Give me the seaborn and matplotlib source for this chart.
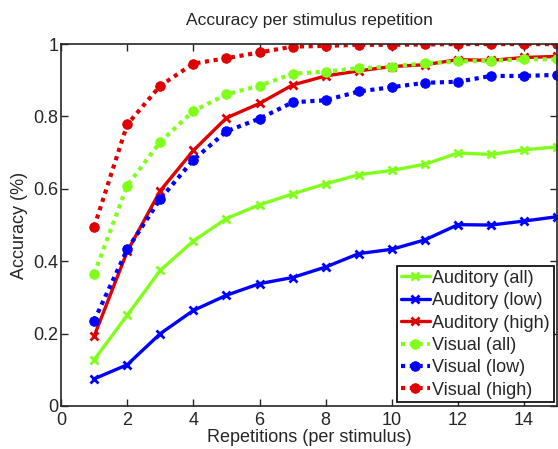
import numpy as np
import pandas as pd
import seaborn as sns
import matplotlib
matplotlib.use("Agg")
import matplotlib.pyplot as plt

reps = list(range(1, 16))
auditory_all = [0.128, 0.251, 0.375, 0.456, 0.518, 0.556, 0.586, 0.614, 0.639, 0.651, 0.668, 0.699, 0.695, 0.708, 0.716]
auditory_low = [0.075, 0.114, 0.200, 0.264, 0.306, 0.338, 0.355, 0.384, 0.421, 0.433, 0.459, 0.501, 0.500, 0.511, 0.523]
auditory_high = [0.193, 0.427, 0.595, 0.706, 0.796, 0.836, 0.887, 0.912, 0.926, 0.938, 0.943, 0.957, 0.955, 0.963, 0.966]
visual_all = [0.365, 0.609, 0.730, 0.815, 0.861, 0.885, 0.918, 0.924, 0.933, 0.938, 0.947, 0.952, 0.954, 0.958, 0.958]
visual_low = [0.236, 0.433, 0.572, 0.680, 0.759, 0.794, 0.839, 0.845, 0.869, 0.881, 0.893, 0.896, 0.912, 0.912, 0.915]
visual_high = [0.495, 0.778, 0.885, 0.946, 0.961, 0.977, 0.993, 0.995, 0.998, 0.998, 0.999, 1.0, 1.0, 1.0, 1.0]

labels = ["Auditory (all)", "Auditory (low)", "Auditory (high)",
          "Visual (all)", "Visual (low)", "Visual (high)"]
series = [auditory_all, auditory_low, auditory_high, visual_all, visual_low, visual_high]

green = "#80ff1a"
blue = "#0000ff"
red = "#e00000"
colors = [green, blue, red, green, blue, red]

sns.set_style("ticks")
plt.rcParams["font.family"] = ["Liberation Sans", "DejaVu Sans"]

fig = plt.figure(figsize=(5.58, 4.49), dpi=100)
ax = fig.add_axes([0.1095, 0.0958, 0.889, 0.806])

for i, (lab, vals) in enumerate(zip(labels, series)):
    df = pd.DataFrame({"rep": reps, "acc": vals})
    if i < 3:
        sns.lineplot(data=df, x="rep", y="acc", ax=ax, color=colors[i], linestyle="-",
                     linewidth=2.4, marker="x", markersize=5.5, markeredgewidth=2.0,
                     markeredgecolor=colors[i], label=lab)
    else:
        sns.lineplot(data=df, x="rep", y="acc", ax=ax, color=colors[i], linestyle=(0, (1, 1.1)),
                     linewidth=3.0, marker="o", markersize=6.8, markeredgecolor=colors[i],
                     label=lab)

ax.set_xlim(0, 15)
ax.set_ylim(0, 1)
ax.set_xticks([0, 2, 4, 6, 8, 10, 12, 14])
ax.set_yticks([0, 0.2, 0.4, 0.6, 0.8, 1.0])
ax.set_yticklabels(["0", "0.2", "0.4", "0.6", "0.8", "1"])
ax.tick_params(direction="in", top=True, right=True, labelsize=13, length=5, width=1, pad=2)
ax.tick_params(axis="x", pad=4)
for s in ax.spines.values():
    s.set_visible(True)
    s.set_linewidth(1.2)
ax.set_xlabel("Repetitions (per stimulus)", fontsize=13, labelpad=0)
ax.set_ylabel("Accuracy (%)", fontsize=13, labelpad=4)
ax.set_title("Accuracy per stimulus repetition", fontsize=12.5, pad=14)

leg = ax.legend(loc="lower right", fontsize=13, frameon=True, fancybox=False,
                edgecolor="black", framealpha=1, handlelength=1.6, handletextpad=0.15,
                borderpad=0.2, labelspacing=0.3, borderaxespad=0.2)
leg.get_frame().set_linewidth(1.2)

fig.savefig("out.png", dpi=100)
